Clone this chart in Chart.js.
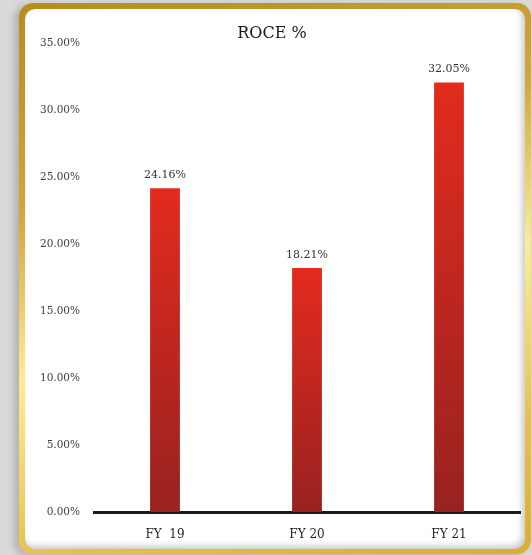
<!DOCTYPE html>
<html lang="en">
<head>
    <meta charset="UTF-8">
    <title>ROCE %</title>
    <script src="https://cdn.jsdelivr.net/npm/chart.js@4.4.1/dist/chart.umd.min.js"></script>
    <style>
        html, body {
            margin: 0;
            padding: 0;
            width: 532px;
            height: 555px;
            overflow: hidden;
            background-color: #d9d9d9;
        }
        .card {
            position: absolute;
            left: 19px;
            top: 3px;
            width: 512px;
            height: 551px;
            border-radius: 14px;
            background: linear-gradient(165deg, #b98b1f 0%, #d0a53a 30%, #fcec96 55%, #e6c24e 80%, #d8ad35 100%);
            box-shadow: -5px 2px 7px rgba(0, 0, 0, 0.18);
        }
        .card-inner {
            position: absolute;
            left: 6px;
            top: 6px;
            right: 6px;
            bottom: 5px;
            border-radius: 10px;
            background: #fff;
            box-shadow: inset -3px -3px 6px rgba(0, 0, 0, 0.22);
        }
        .chart-box {
            position: absolute;
            left: 0;
            top: 0;
            width: 532px;
            height: 555px;
        }
    </style>
</head>
<body>
    <div class="card"><div class="card-inner"></div></div>
    <div class="chart-box">
        <canvas id="chart"></canvas>
    </div>

    <script>
        // 数据
        const years = ['FY  19', 'FY 20', 'FY 21'];
        const roce = [24.16, 18.21, 32.05];
        const chartTitle = 'ROCE %';

        const fontFamily = "'DejaVu Serif', 'Liberation Serif', serif";

        // 标题, 以卡片中心为准
        const titlePlugin = {
            id: 'cardTitle',
            afterDraw(chart) {
                const c = chart.ctx;
                c.save();
                c.font = '16px ' + fontFamily;
                c.fillStyle = '#1a1a1a';
                c.textAlign = 'center';
                c.textBaseline = 'middle';
                c.fillText(chartTitle, 272, 34);
                c.restore();
            }
        };

        // 柱顶数值
        const valueLabels = {
            id: 'valueLabels',
            afterDatasetsDraw(chart) {
                const c = chart.ctx;
                const meta = chart.getDatasetMeta(0);
                c.save();
                c.font = '11px ' + fontFamily;
                c.fillStyle = '#333333';
                c.textAlign = 'center';
                c.textBaseline = 'middle';
                meta.data.forEach((bar, i) => {
                    c.fillText(roce[i].toFixed(2) + '%', bar.x, bar.y - 13);
                });
                c.restore();
            }
        };

        function barGradient(context) {
            const chart = context.chart;
            const area = chart.chartArea;
            if (!area) return '#c8261f';
            const top = chart.scales.y.getPixelForValue(context.raw);
            const g = chart.ctx.createLinearGradient(0, top, 0, area.bottom);
            g.addColorStop(0, '#e22b1d');
            g.addColorStop(1, '#982220');
            return g;
        }

        const ctx = document.getElementById('chart').getContext('2d');
        new Chart(ctx, {
            type: 'bar',
            data: {
                labels: years,
                datasets: [{
                    data: roce,
                    backgroundColor: barGradient,
                    barPercentage: 0.21,
                    categoryPercentage: 1
                }]
            },
            options: {
                responsive: true,
                maintainAspectRatio: false,
                animation: false,
                layout: {
                    padding: { top: 43, right: 12, left: 0, bottom: 0 }
                },
                plugins: {
                    legend: { display: false },
                    tooltip: { enabled: false }
                },
                scales: {
                    x: {
                        grid: { display: false },
                        border: { display: true, color: '#1a1a1a', width: 3 },
                        ticks: {
                            color: '#262626',
                            padding: 8,
                            font: { family: fontFamily, size: 12 }
                        },
                        afterFit(scale) { scale.height = 43; }
                    },
                    y: {
                        min: 0,
                        max: 35,
                        grid: { display: false },
                        border: { display: false },
                        ticks: {
                            stepSize: 5,
                            color: '#404040',
                            padding: 6,
                            font: { family: fontFamily, size: 10.5 },
                            callback: v => v.toFixed(2) + '%'
                        },
                        afterFit(scale) { scale.width = 94; }
                    }
                }
            },
            plugins: [titlePlugin, valueLabels]
        });
    </script>
</body>
</html>
